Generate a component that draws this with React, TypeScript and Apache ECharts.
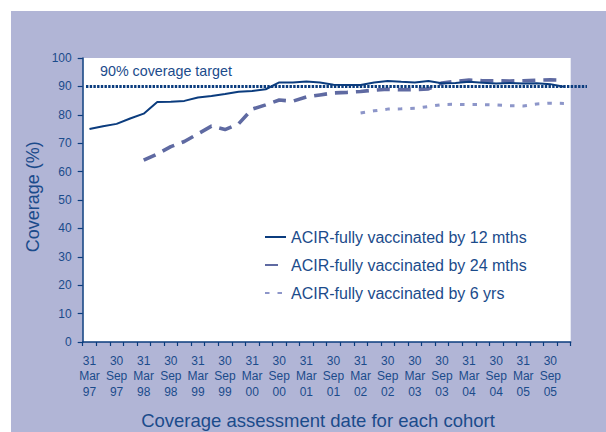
import React, { useEffect, useRef } from "react";
import * as echarts from "echarts";

const categories = [
  "Mar 97", "Jun 97", "Sep 97", "Dec 97",
  "Mar 98", "Jun 98", "Sep 98", "Dec 98",
  "Mar 99", "Jun 99", "Sep 99", "Dec 99",
  "Mar 00", "Jun 00", "Sep 00", "Dec 00",
  "Mar 01", "Jun 01", "Sep 01", "Dec 01",
  "Mar 02", "Jun 02", "Sep 02", "Dec 02",
  "Mar 03", "Jun 03", "Sep 03", "Dec 03",
  "Mar 04", "Jun 04", "Sep 04", "Dec 04",
  "Mar 05", "Jun 05", "Sep 05", "Dec 05",
];

const tickLabels = [
  "31\nMar\n97", "30\nSep\n97", "31\nMar\n98", "30\nSep\n98",
  "31\nMar\n99", "30\nSep\n99", "31\nMar\n00", "30\nSep\n00",
  "31\nMar\n01", "30\nSep\n01", "31\nMar\n02", "30\nSep\n02",
  "30\nMar\n03", "30\nSep\n03", "31\nMar\n04", "30\nSep\n04",
  "31\nMar\n05", "30\nSep\n05",
];

const seriesNames = [
  "ACIR-fully vaccinated by 12 mths",
  "ACIR-fully vaccinated by 24 mths",
  "ACIR-fully vaccinated by 6 yrs",
];

const by12mths = [
  75.0, 76.0, 76.8, 78.7, 80.4, 84.5, 84.6, 84.9, 86.1, 86.6, 87.3, 88.1,
  88.4, 89.0, 91.4, 91.4, 91.7, 91.4, 90.6, 90.5, 90.5, 91.4, 91.9, 91.6,
  91.4, 91.9, 91.1, 91.2, 91.6, 91.3, 91.0, 91.2, 91.0, 91.1, 90.8, 89.9,
];

const by24mths = [
  null, null, null, null, 64.0, 66.2, 68.8, 70.6, 73.3, 76.0, 74.8, 76.8,
  82.0, 83.5, 85.2, 84.8, 86.3, 87.0, 87.7, 87.9, 88.2, 88.7, 89.0, 88.8,
  88.9, 89.1, 91.2, 91.8, 92.2, 92.0, 92.0, 91.9, 92.0, 92.2, 92.3, 92.2,
];

const by6yrs = [
  null, null, null, null, null, null, null, null, null, null, null, null,
  null, null, null, null, null, null, null, null, 80.6, 81.4, 82.0, 82.1,
  82.3, 82.9, 83.6, 83.7, 83.6, 83.6, 83.5, 83.2, 83.1, 83.8, 84.1, 84.0,
];

const targetValue = 90;
const targetLabel = "90% coverage target";
const yAxisTitle = "Coverage (%)";
const xAxisTitle = "Coverage assessment date for each cohort";

const NAVY = "#0b3c7e";
const TEXT = "#1b4b8b";
const PANEL = "#b1b5d6";
const FONT = "'Liberation Sans', Arial, Helvetica, sans-serif";

export default function App() {
  const ref = useRef<HTMLDivElement>(null);

  useEffect(() => {
    if (!ref.current) return;
    const chart = echarts.init(ref.current, undefined, { renderer: "svg" });

    const option: any = {
      animation: false,
      backgroundColor: PANEL,
      textStyle: { fontFamily: FONT },
      grid: {
        left: 82.7,
        right: 35.3,
        top: 58,
        bottom: 90,
        show: true,
        backgroundColor: "#ffffff",
        borderWidth: 0,
      },
      legend: {
        orient: "vertical",
        left: 264,
        top: 228,
        padding: 0,
        itemWidth: 21,
        itemHeight: 14,
        itemGap: 10,
        itemStyle: { opacity: 0 },
        textStyle: { fontSize: 16, color: TEXT, fontFamily: FONT, lineHeight: 18 },
        data: seriesNames,
      },
      xAxis: {
        type: "category",
        data: categories,
        boundaryGap: true,
        axisLine: { show: true, lineStyle: { color: NAVY, width: 1.5 } },
        axisTick: { show: true, interval: 0, length: 4, lineStyle: { color: NAVY, width: 1.2 } },
        axisLabel: {
          interval: 0,
          margin: 11,
          color: TEXT,
          fontSize: 12,
          lineHeight: 15.5,
          fontFamily: FONT,
          formatter: (_v: string, i: number) => (i % 2 === 0 ? tickLabels[i / 2] : ""),
        },
        splitLine: { show: false },
      },
      yAxis: {
        type: "value",
        min: 0,
        max: 100,
        interval: 10,
        axisLine: { show: true, lineStyle: { color: NAVY, width: 1.5 } },
        axisTick: { show: true, length: 5, lineStyle: { color: NAVY, width: 1.2 } },
        axisLabel: { color: TEXT, fontSize: 12, margin: 11, fontFamily: FONT },
        splitLine: { show: false },
      },
      series: [
        {
          name: seriesNames[0],
          type: "line",
          data: by12mths,
          symbol: "none",
          color: NAVY,
          lineStyle: { color: NAVY, width: 2 },
          z: 4,
        },
        {
          name: seriesNames[1],
          type: "line",
          data: by24mths,
          symbol: "none",
          color: "#5f6aa2",
          lineStyle: { color: "#5f6aa2", width: 3.6, type: [13, 8] },
          z: 3,
        },
        {
          name: seriesNames[2],
          type: "line",
          data: by6yrs,
          symbol: "none",
          color: "#8d96c9",
          lineStyle: { color: "#8d96c9", width: 3, type: [4.5, 8] },
          z: 3,
        },
      ],
    };

    chart.setOption(option);

    const yPix = chart.convertToPixel({ yAxisIndex: 0 }, targetValue) as number;

    chart.setOption({
      graphic: [
        { type: "rect", shape: { x: 0, y: 0, width: 606, height: 11 }, style: { fill: "#ffffff" }, silent: true },
        { type: "rect", shape: { x: 0, y: 0, width: 11, height: 432 }, style: { fill: "#ffffff" }, silent: true },
        {
          type: "line",
          z: 10,
          shape: { x1: 86, y1: yPix, x2: 587, y2: yPix },
          style: { stroke: NAVY, lineWidth: 3, lineDash: [2.4, 1.3] },
          silent: true,
        },
        {
          type: "text",
          x: 100,
          y: 70.7,
          z: 10,
          style: {
            text: targetLabel,
            fill: TEXT,
            fontSize: 14.3,
            fontFamily: FONT,
            align: "left",
            verticalAlign: "middle",
          },
        },
        {
          type: "text",
          x: 33.3,
          y: 196.7,
          rotation: Math.PI / 2,
          style: {
            text: yAxisTitle,
            fill: TEXT,
            fontSize: 18,
            fontFamily: FONT,
            align: "center",
            verticalAlign: "middle",
          },
        },
        {
          type: "text",
          x: 318,
          y: 420,
          style: {
            text: xAxisTitle,
            fill: TEXT,
            fontSize: 18.5,
            fontFamily: FONT,
            align: "center",
            verticalAlign: "middle",
          },
        },
      ],
    });

    return () => chart.dispose();
  }, []);

  return (
    <div
      ref={ref}
      style={{ position: "fixed", left: 0, top: 0, width: 606, height: 432 }}
    />
  );
}
